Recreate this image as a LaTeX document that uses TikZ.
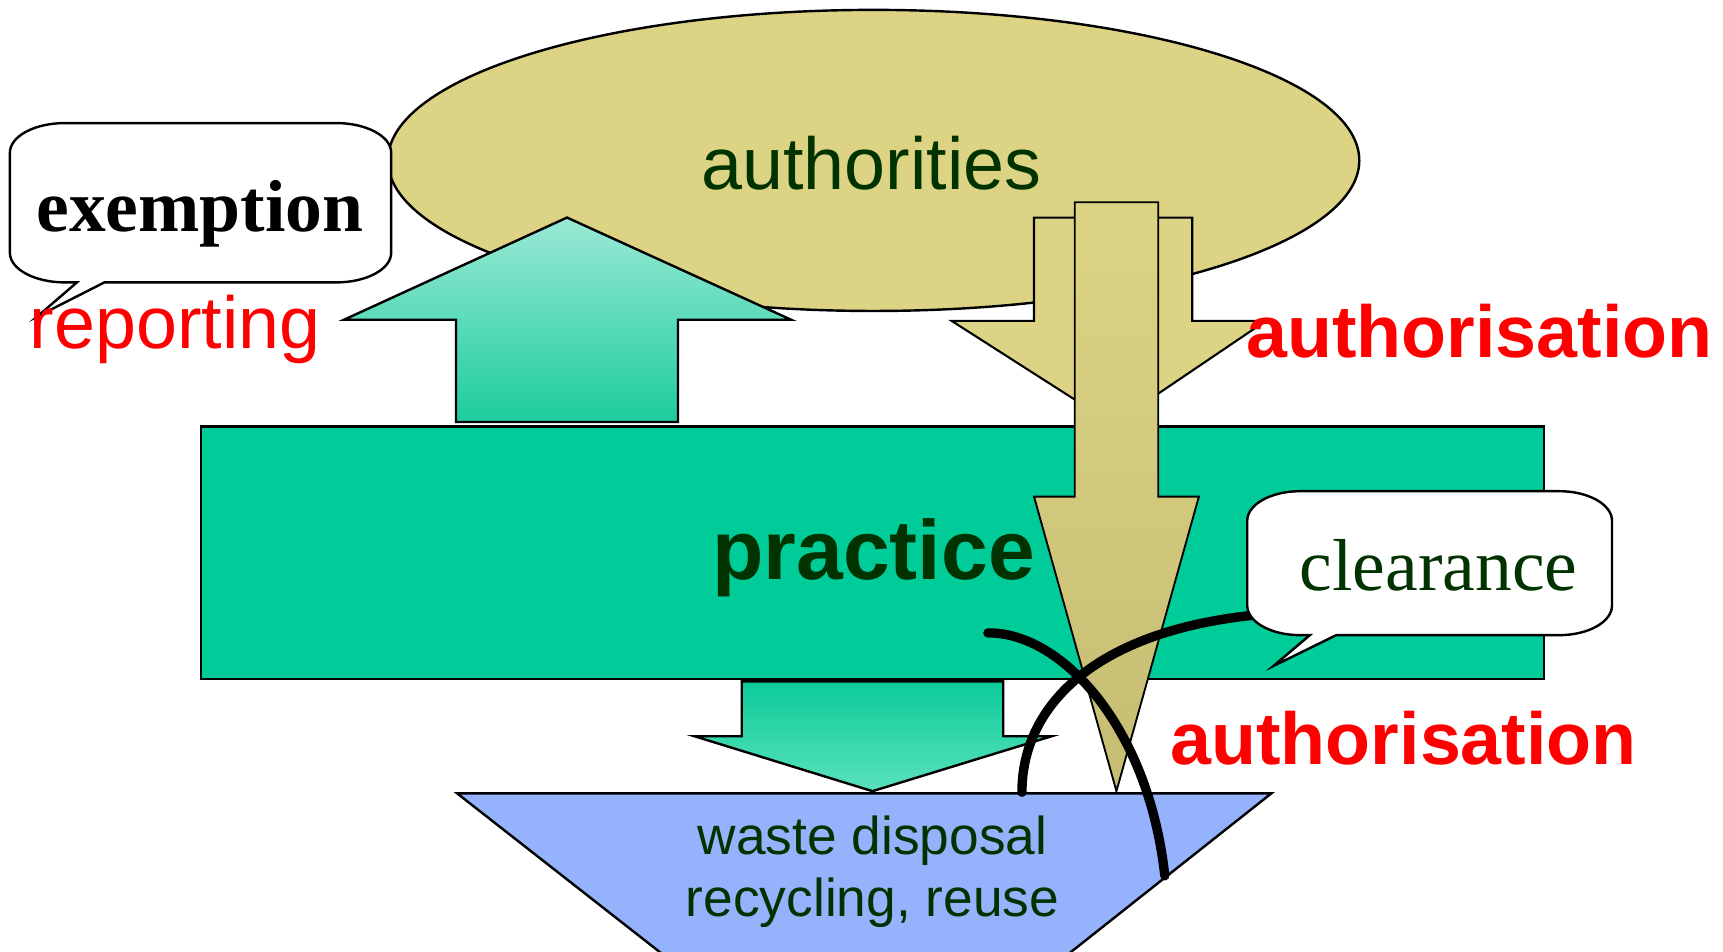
\documentclass[tikz,border=0pt]{standalone}
\usepackage{fontspec}
\setmainfont{Liberation Serif}
\newfontfamily\arialf{Liberation Sans}
\definecolor{khaki}{RGB}{220,212,132}
\definecolor{khakidark}{RGB}{198,189,116}
\definecolor{practicegreen}{RGB}{0,204,153}
\definecolor{uplight}{RGB}{155,233,213}
\definecolor{upbottom}{RGB}{28,205,158}
\definecolor{downtop}{RGB}{12,203,153}
\definecolor{downlight}{RGB}{90,226,188}
\definecolor{wasteblue}{RGB}{148,179,252}
\definecolor{dkgreen}{RGB}{0,51,0}
\begin{document}
\begin{tikzpicture}[x=1pt,y=-1pt,
  outl/.style={draw=black,line width=2.2pt,line join=miter},
  lbl/.style={inner sep=0pt,anchor=base},
  bigcurve/.style={draw=black,line width=8.5pt,line cap=round},
  sanstxt/.style={font=\arialf\fontsize{67}{80}\selectfont},
  sansbold/.style={font=\arialf\bfseries\fontsize{67}{80}\selectfont},
  seriftxt/.style={font=\fontsize{67}{80}\selectfont}]
\useasboundingbox (0,0) rectangle (1568,866);
\fill[white] (0,0) rectangle (1568,866);
% authorities ellipse
\path[outl,fill=khaki] (795,146) ellipse [x radius=442, y radius=137];
% exemption bubble
\path[outl,fill=white] (59,112) -- (306,112) .. controls (333.6,112) and (356,124.1) .. (356,139) -- (356,230) .. controls (356,244.9) and (333.6,257) .. (306,257) -- (95,257) -- (34,288) -- (70,257) -- (59,257) .. controls (31.4,257) and (9,244.9) .. (9,230) -- (9,139) .. controls (9,124.1) and (31.4,112) .. (59,112) -- cycle;
% reporting arrow (up)
\path[outl,top color=uplight,bottom color=upbottom] (415,384) -- (415,291) -- (313,291) -- (516,198) -- (720,291) -- (617,291) -- (617,384) -- cycle;
% practice
\path[outl,fill=practicegreen] (183,388) rectangle (1405,618);
% wide authorisation arrow
\path[outl,line width=1.9pt,fill=khaki] (941,198) -- (1085,198) -- (1085,292) -- (1152,292) -- (1013,386) -- (866,292) -- (941,292) -- cycle;
% narrow authorisation arrow
\path[outl,line width=1.7pt,top color=khaki,bottom color=khakidark] (978,184) -- (1054,184) -- (1054,452) -- (1091,452) -- (1016,720) -- (941,452) -- (978,452) -- cycle;
% green down arrow
\path[outl,top color=downtop,bottom color=downlight] (675,620) -- (913,620) -- (913,670) -- (957,670) -- (794,720) -- (632,670) -- (675,670) -- cycle;
% waste trapezoid
\begin{scope}
\clip (0,0) rectangle (1568,866);
\path[outl,fill=wasteblue] (416,722) -- (1157,722) -- (970,870) -- (605,870) -- cycle;
\end{scope}
% clearance curves
\coordinate (c1s) at (899,576);
\coordinate (c1e) at (1060,797);
\coordinate (c2s) at (930,721);
\coordinate (c2e) at (1150,559);
\draw[bigcurve] (c1s) .. controls (965,575) and (1045,660) .. (c1e);
\draw[bigcurve] (c2s) .. controls (930,640) and (1000,572) .. (c2e);
% clearance bubble
\path[outl,fill=white] (1183,447) -- (1419,447) .. controls (1445.5,447) and (1467,459.1) .. (1467,474) -- (1467,551) .. controls (1467,565.9) and (1445.5,578) .. (1419,578) -- (1216,578) -- (1159,606) -- (1192,578) -- (1183,578) .. controls (1156.5,578) and (1135,565.9) .. (1135,551) -- (1135,474) .. controls (1135,459.1) and (1156.5,447) .. (1183,447) -- cycle;
% texts
\node[lbl,sanstxt,text=dkgreen] (authorities) at (793,172) {authorities};
\node[lbl,font=\bfseries\fontsize{67}{80}\selectfont,text=black] (exemption) at (182,211) {exemption};
\node[lbl,sanstxt,text=red,anchor=base west] (reporting) at (27,317) {reporting};
\node[lbl,font=\arialf\bfseries\fontsize{76.5}{90}\selectfont,text=dkgreen] (practice) at (795,527) {practice};
\node[lbl,sansbold,text=red,anchor=base west] (auth1) at (1134,325) {authorisation};
\node[lbl,sansbold,text=red,anchor=base west] (auth2) at (1065,696) {authorisation};
\node[lbl,seriftxt,text=dkgreen] (clearance) at (1309,537) {clearance};
\node[lbl,font=\arialf\fontsize{48.5}{56}\selectfont,text=dkgreen] (waste1) at (794,778) {waste disposal};
\node[lbl,font=\arialf\fontsize{48.5}{56}\selectfont,text=dkgreen] (waste2) at (794,834) {recycling, reuse};
\end{tikzpicture}
\end{document}
